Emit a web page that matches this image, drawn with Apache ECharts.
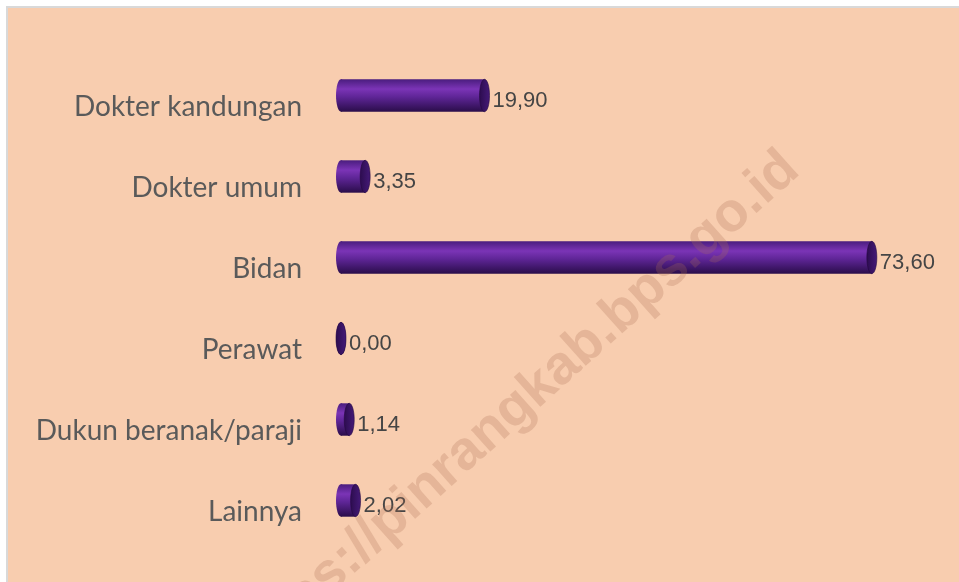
<!DOCTYPE html>
<html>
<head>
<meta charset="utf-8">
<script src="https://cdn.jsdelivr.net/npm/echarts@6/dist/echarts.min.js"></script>
<style>
  html, body { margin: 0; padding: 0; background: #ffffff; }
  #main { width: 959px; height: 582px; }
</style>
</head>
<body>
<div id="main"></div>
<script>
// kategori penolong persalinan dan persentasenya
var categories = ["Dokter kandungan", "Dokter umum", "Bidan", "Perawat", "Dukun beranak/paraji", "Lainnya"]
var values = [19.90, 3.35, 73.60, 0.00, 1.14, 2.02]
var watermark = "https://pinrangkab.bps.go.id"

var myChart = echarts.init(document.getElementById("main"))

// batang silinder: badan + tutup elips di ujung
function renderCylinder(params, api) {
  var idx = api.value(0)
  var val = api.value(1)
  var start = api.coord([0, idx])
  var end = api.coord([val, idx])
  var h = api.size([0, 1])[1] * 0.4
  var rx = 5
  var top = start[1] - h / 2
  var bodyFill = new echarts.graphic.LinearGradient(0, 0, 0, 1, [
    { offset: 0, color: "#4a1d7e" },
    { offset: 0.3, color: "#7b34b6" },
    { offset: 0.55, color: "#5e2596" },
    { offset: 1, color: "#2a0d4a" }
  ])
  var capFill = new echarts.graphic.LinearGradient(0, 0, 1, 0, [
    { offset: 0, color: "#2c0c4e" },
    { offset: 1, color: "#451a78" }
  ])
  return {
    type: "group",
    children: [
      {
        type: "ellipse",
        shape: { cx: start[0], cy: start[1], rx: rx, ry: h / 2 },
        style: { fill: bodyFill }
      },
      {
        type: "rect",
        shape: { x: start[0], y: top, width: end[0] - start[0], height: h },
        style: { fill: bodyFill }
      },
      {
        type: "ellipse",
        shape: { cx: end[0], cy: end[1], rx: rx, ry: h / 2 },
        style: { fill: capFill, stroke: "#24093f", lineWidth: 0.6 }
      },
      {
        type: "text",
        x: end[0] + rx + 3,
        y: end[1] + 5,
        style: {
          text: val.toFixed(2).replace(".", ","),
          fill: "#454545",
          font: "22px 'Liberation Sans', sans-serif",
          verticalAlign: "middle",
          align: "left"
        }
      }
    ]
  }
}

var option = {
  backgroundColor: "#ffffff",
  animation: false,
  grid: { left: 341, right: 41, top: 55, height: 486, containLabel: false },
  xAxis: {
    type: "value",
    min: 0,
    max: 80,
    show: false
  },
  yAxis: {
    type: "category",
    data: categories,
    inverse: true,
    axisLine: { show: false },
    axisTick: { show: false },
    axisLabel: {
      margin: 39,
      color: "#5a5a5a",
      fontFamily: "Lato",
      fontSize: 28,
      verticalAlign: "top",
      lineHeight: 22
    }
  },
  graphic: [
    { type: "rect", z: -20, shape: { x: 6, y: 6, width: 953, height: 576 }, style: { fill: "#d9d9d9" } },
    { type: "rect", z: -19, shape: { x: 8, y: 8, width: 951, height: 574 }, style: { fill: "#f8cdaf" } },
    {
      type: "text",
      z: 100,
      x: 516,
      y: 408,
      rotation: 0.73,
      style: {
        text: watermark,
        font: "bold 55px 'Liberation Sans', sans-serif",
        fill: "rgba(170,110,85,0.25)",
        align: "center",
        verticalAlign: "middle"
      }
    }
  ],
  series: [
    {
      type: "custom",
      renderItem: renderCylinder,
      encode: { x: 1, y: 0 },
      data: values.map(function (v, i) { return [i, v] })
    }
  ]
}

myChart.setOption(option)
</script>
</body>
</html>
